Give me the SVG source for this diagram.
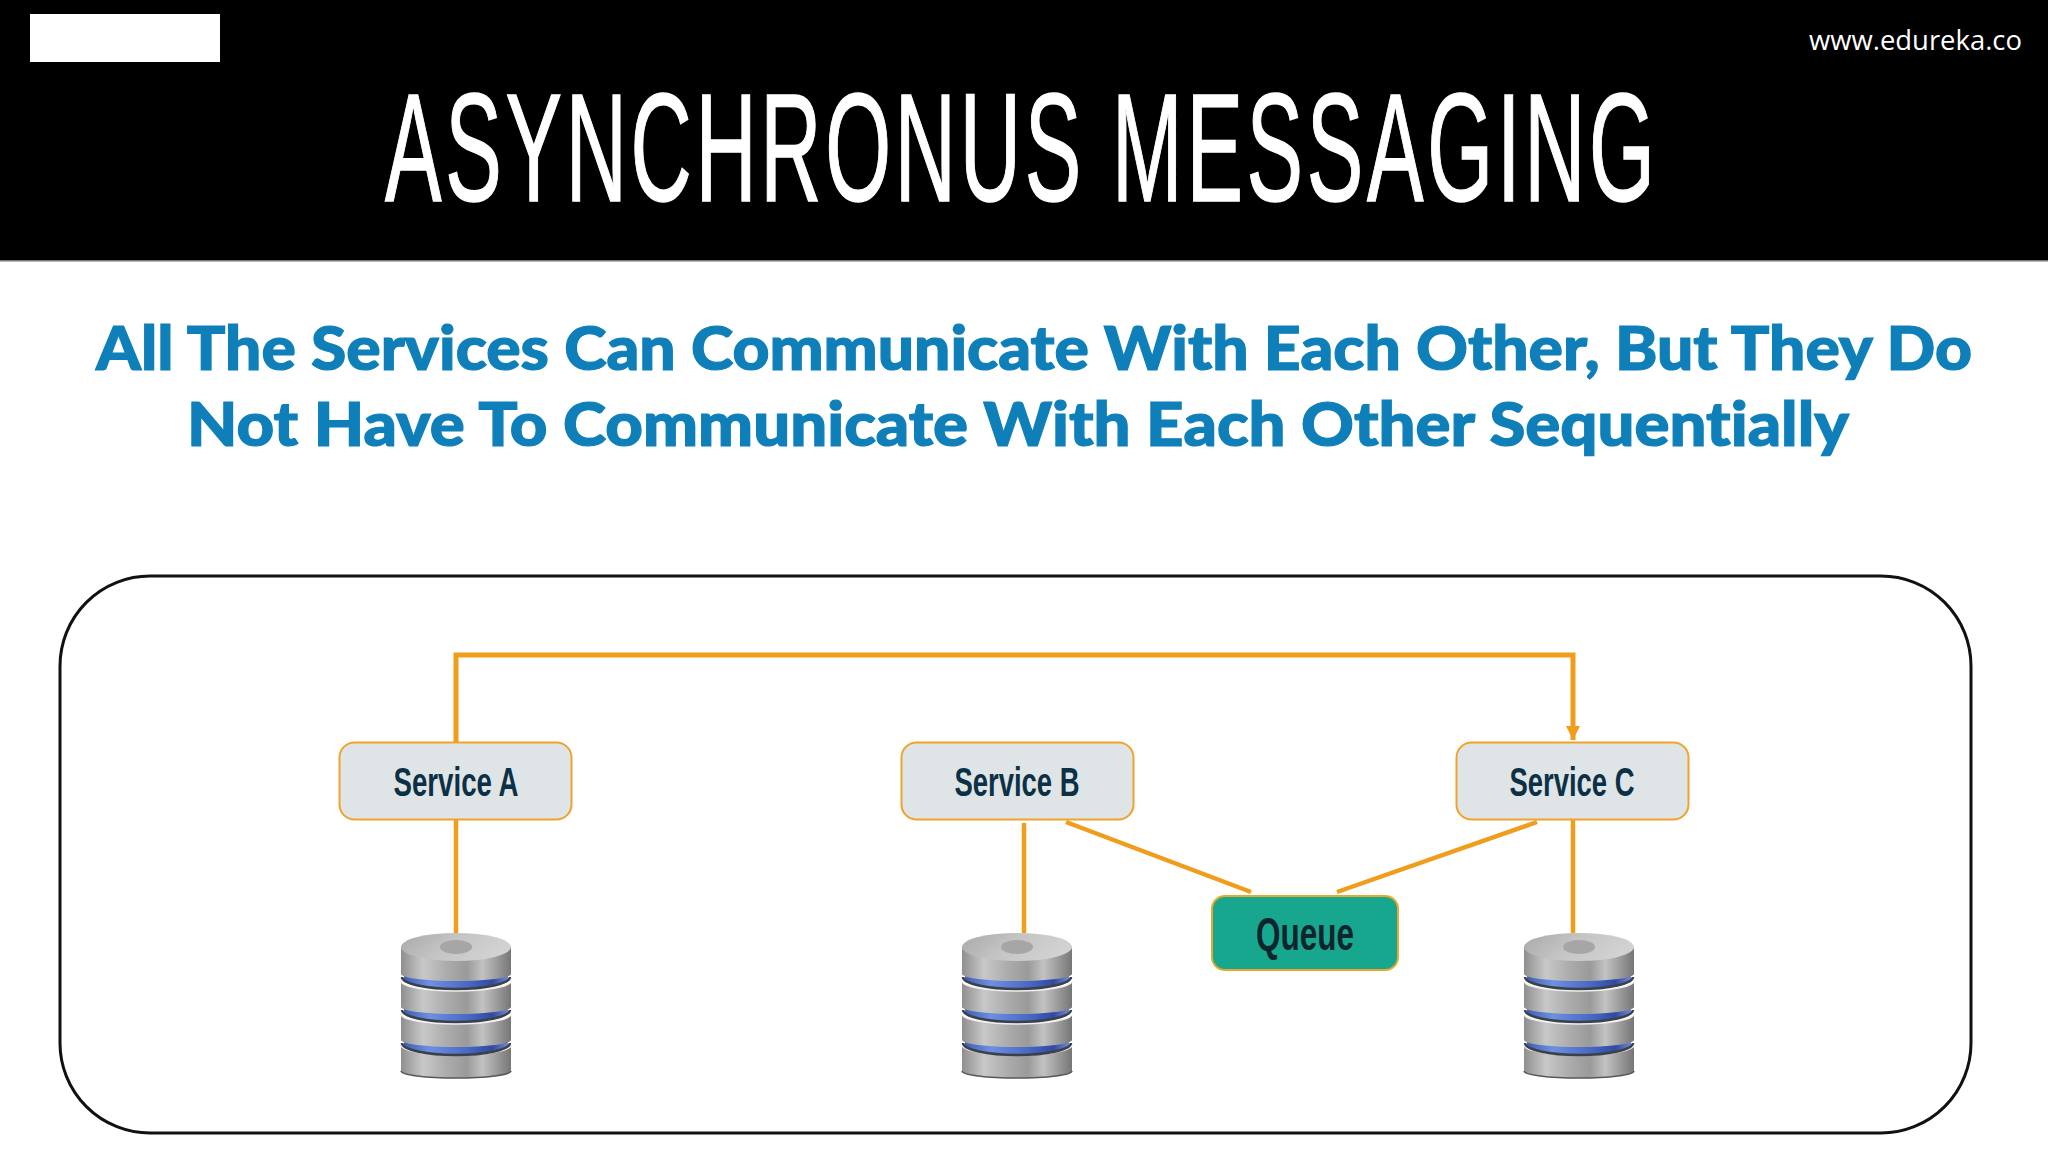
<svg xmlns="http://www.w3.org/2000/svg" xmlns:xlink="http://www.w3.org/1999/xlink" width="2048" height="1152" viewBox="0 0 2048 1152">
<style>
.title{font-family:"Liberation Sans",Arial,sans-serif;font-size:154px;fill:#fff;stroke:#fff;stroke-width:1.500}
.web{font-family:"Open Sans",sans-serif;font-size:27px;fill:#fff}
.head{font-family:"Lato",sans-serif;font-weight:900;font-size:60px;fill:#0f7fb9;stroke:#0f7fb9;stroke-width:1.200;font-variant-ligatures:none}
.svc{fill:#dfe4e6;stroke:#f0a32b;stroke-width:2}
.svct{font-family:"Liberation Sans",Arial,sans-serif;font-weight:700;font-size:41px;fill:#0c3045;text-anchor:middle}
.conn{fill:none;stroke:#f09d1b;stroke-width:4.500}
.top{stroke-width:5}
</style>
<defs>
<linearGradient id="metal" x1="0" x2="1" y1="0" y2="0">
<stop offset="0" stop-color="#8f8f8f"/><stop offset=".2" stop-color="#c8c8c8"/><stop offset=".42" stop-color="#ababab"/><stop offset=".6" stop-color="#9a9a9a"/><stop offset=".74" stop-color="#c2c2c2"/><stop offset="1" stop-color="#767676"/>
</linearGradient>
<linearGradient id="topm" x1="0" x2="1" y1="0" y2="0.3">
<stop offset="0" stop-color="#a8a8a8"/><stop offset=".5" stop-color="#c4c4c4"/><stop offset="1" stop-color="#d2d2d2"/>
</linearGradient>
<linearGradient id="blue" x1="0" x2="1" y1="0" y2="0">
<stop offset="0" stop-color="#3f5fb4"/><stop offset=".25" stop-color="#6f8fe0"/><stop offset=".6" stop-color="#4a6ac8"/><stop offset=".85" stop-color="#2f4aa0"/><stop offset="1" stop-color="#7088d8"/>
</linearGradient>
<marker id="arrow" markerUnits="userSpaceOnUse" markerWidth="16" markerHeight="16" refX="14" refY="7" orient="auto">
<path d="M0,0L14,7L0,14Z" fill="#f09d1b"/>
</marker>
<g id="body">
<path d="M-55,-26A55,10 0 0 0 55,-26V0A55,7 0 0 1 -55,0Z" fill="url(#metal)"/>
<path d="M-55,-26A55,10 0 0 0 55,-26" fill="none" stroke="#f0f0f0" stroke-width="1.500"/>
</g>
<g id="gap">
<path d="M-52,-4V6A52,9 0 0 0 52,6V-4Z" fill="url(#blue)"/>
<path d="M-54,3A54,12 0 0 0 54,3" fill="none" stroke="#3c4048" stroke-width="2.500"/>
</g>
<g id="db">
<use xlink:href="#body" href="#body" y="138"/>
<path d="M-55,138A55,7 0 0 0 55,138" fill="none" stroke="#55585c" stroke-width="1.500"/>
<use xlink:href="#gap" href="#gap" y="107"/>
<use xlink:href="#body" href="#body" y="107"/>
<use xlink:href="#gap" href="#gap" y="74"/>
<use xlink:href="#body" href="#body" y="74"/>
<use xlink:href="#gap" href="#gap" y="41"/>
<path d="M-55,14V41A55,7 0 0 0 55,41V14Z" fill="url(#metal)"/>
<ellipse cx="0" cy="14" rx="55" ry="14" fill="url(#topm)"/>
<ellipse cx="0" cy="14" rx="16" ry="7" fill="#a6a6a6"/>
</g>
</defs>
<rect width="2048" height="1152" fill="#fff"/>
<g id="header">
<rect x="0" y="0" width="2048" height="260" fill="#000"/>
<rect x="0" y="260" width="2048" height="1.500" fill="#777"/>
<rect x="30" y="14" width="190" height="48" fill="#fff"/>
<text class="web" x="1809" y="50" textLength="213" lengthAdjust="spacingAndGlyphs">www.edureka.co</text>
<text class="title" transform="translate(385 200.500) scale(.55 1)" x="0" y="0" textLength="2309" lengthAdjust="spacing">ASYNCHRONUS MESSAGING</text>
</g>
<g id="heading">
<text class="head" x="96" y="370" textLength="1876" lengthAdjust="spacingAndGlyphs">All The Services Can Communicate With Each Other, But They Do</text>
<text class="head" x="187" y="446" textLength="1662" lengthAdjust="spacingAndGlyphs">Not Have To Communicate With Each Other Sequentially</text>
</g>
<rect id="panel" x="60" y="576" width="1911" height="557" rx="90" ry="90" fill="#fff" stroke="#111" stroke-width="3"/>
<g id="connectors">
<path class="conn top" d="M456,742V655H1573V740" marker-end="url(#arrow)"/>
<path class="conn" d="M456,820V933"/>
<path class="conn" d="M1024,823V933"/>
<path class="conn" d="M1573,820V933"/>
<path class="conn" d="M1066,822L1251,892"/>
<path class="conn" d="M1537,822L1337,892"/>
</g>
<g id="service-a"><rect class="svc" x="339.500" y="742.500" width="232" height="77" rx="15"/><text class="svct" x="456" y="796" textLength="125" lengthAdjust="spacingAndGlyphs">Service A</text></g>
<g id="service-b"><rect class="svc" x="901.500" y="742.500" width="232" height="77" rx="15"/><text class="svct" x="1017" y="796" textLength="125" lengthAdjust="spacingAndGlyphs">Service B</text></g>
<g id="service-c"><rect class="svc" x="1456.500" y="742.500" width="232" height="77" rx="15"/><text class="svct" x="1572" y="796" textLength="125" lengthAdjust="spacingAndGlyphs">Service C</text></g>
<g id="queue"><rect x="1212" y="896" width="186" height="74" rx="13" fill="#17a78f" stroke="#e8a82e" stroke-width="2"/><text class="svct" x="1305" y="950" style="font-size:46px;fill:#10242e" textLength="98" lengthAdjust="spacingAndGlyphs">Queue</text></g>
<g id="db-a"><use xlink:href="#db" href="#db" x="456" y="933"/></g>
<g id="db-b"><use xlink:href="#db" href="#db" x="1017" y="933"/></g>
<g id="db-c"><use xlink:href="#db" href="#db" x="1579" y="933"/></g>
</svg>
